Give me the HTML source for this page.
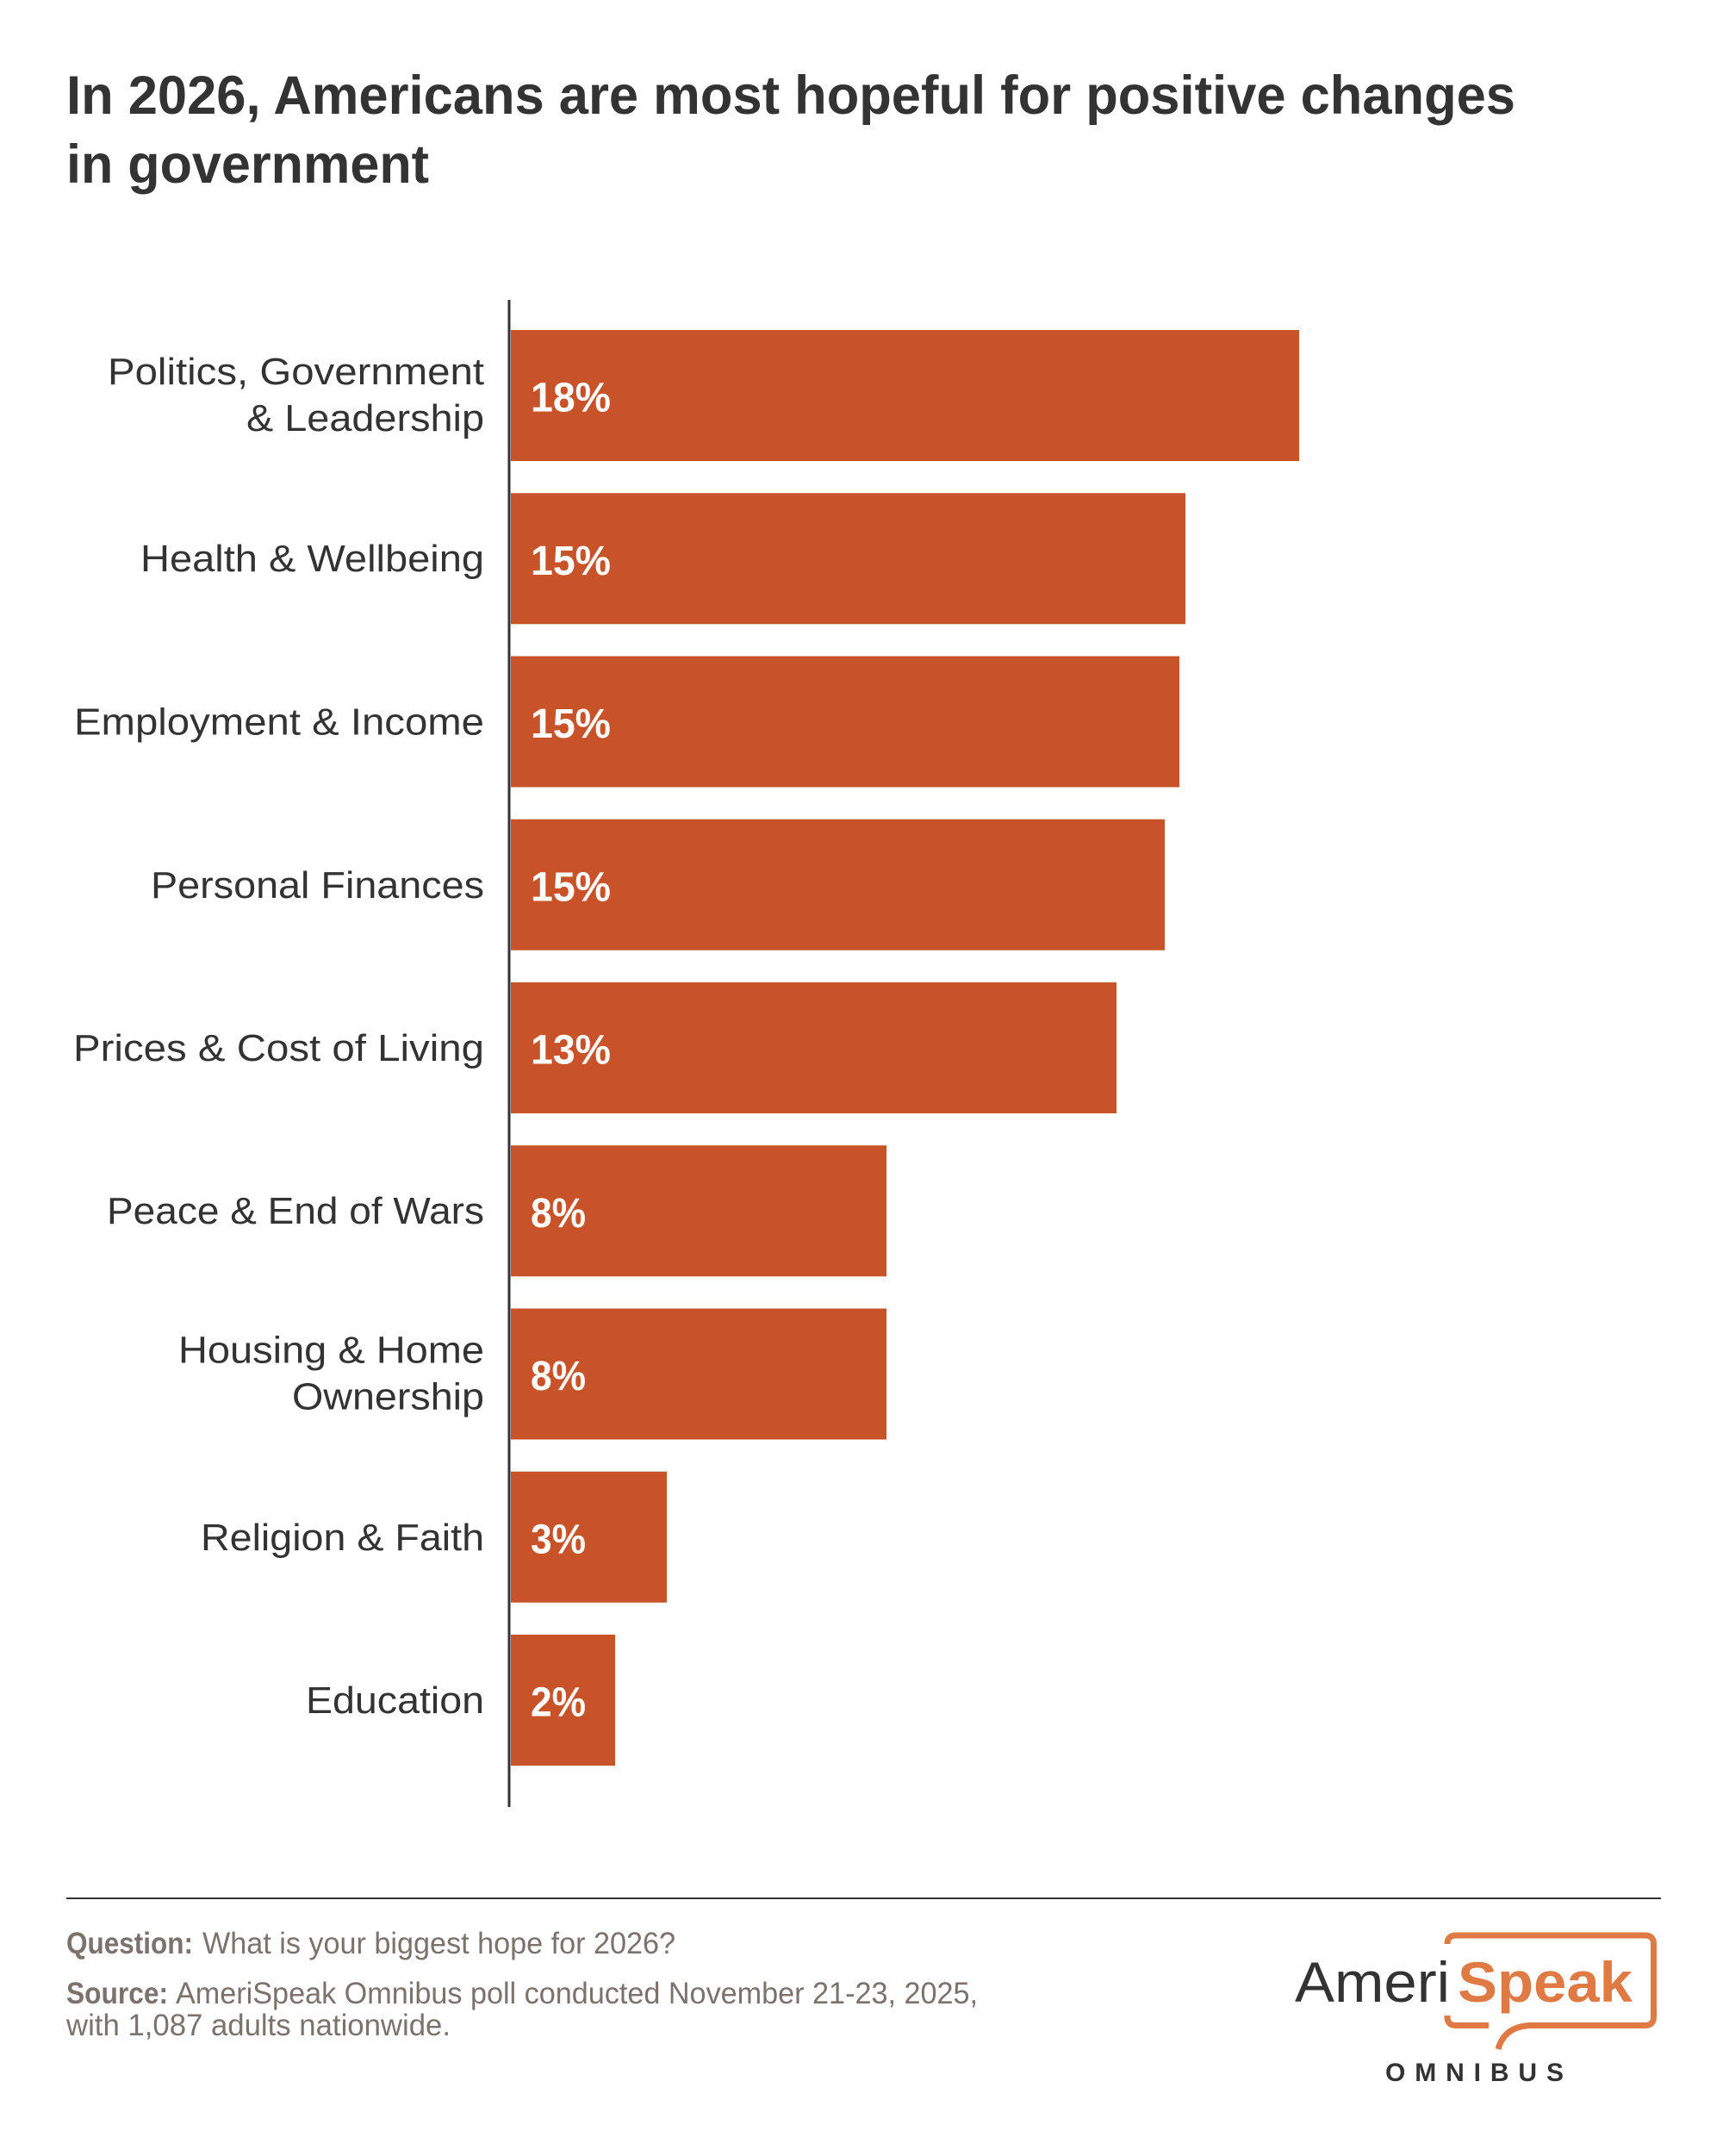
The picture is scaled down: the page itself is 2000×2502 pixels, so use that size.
<!DOCTYPE html>
<html>
<head>
<meta charset="utf-8">
<style>
  html, body { margin: 0; padding: 0; background: #ffffff; }
  svg { display: block; }
  text { font-family: "Liberation Sans", Arial, sans-serif; }
</style>
</head>
<body>
<svg width="2000" height="2502" viewBox="0 0 2000 2502" xmlns="http://www.w3.org/2000/svg">
  <rect x="0" y="0" width="2000" height="2502" fill="#ffffff"/>

  <!-- Title -->
  <text x="77" y="132" font-size="63" font-weight="bold" fill="#333333" textLength="1682" lengthAdjust="spacingAndGlyphs">In 2026, Americans are most hopeful for positive changes</text>
  <text x="77" y="212" font-size="63" font-weight="bold" fill="#333333" textLength="421" lengthAdjust="spacingAndGlyphs">in government</text>

  <!-- Bars -->
  <g fill="#C85329">
    <rect x="593" y="383" width="915" height="152"/>
    <rect x="593" y="572.25" width="783" height="152"/>
    <rect x="593" y="761.5" width="776" height="152"/>
    <rect x="593" y="950.75" width="759" height="152"/>
    <rect x="593" y="1140" width="703" height="152"/>
    <rect x="593" y="1329.25" width="436" height="152"/>
    <rect x="593" y="1518.5" width="436" height="152"/>
    <rect x="593" y="1707.75" width="181" height="152"/>
    <rect x="593" y="1897" width="121" height="152"/>
  </g>

  <!-- Axis -->
  <rect x="589.5" y="348" width="3" height="1749" fill="#333333"/>

  <!-- Category labels -->
  <g font-size="43.5" fill="#333333">
    <text x="125" y="446" textLength="437" lengthAdjust="spacingAndGlyphs">Politics, Government</text>
    <text x="286" y="500" textLength="276" lengthAdjust="spacingAndGlyphs">&amp; Leadership</text>
    <text x="163" y="663" textLength="399" lengthAdjust="spacingAndGlyphs">Health &amp; Wellbeing</text>
    <text x="86" y="852.5" textLength="476" lengthAdjust="spacingAndGlyphs">Employment &amp; Income</text>
    <text x="175" y="1042" textLength="387" lengthAdjust="spacingAndGlyphs">Personal Finances</text>
    <text x="85" y="1231" textLength="477" lengthAdjust="spacingAndGlyphs">Prices &amp; Cost of Living</text>
    <text x="124" y="1420" textLength="438" lengthAdjust="spacingAndGlyphs">Peace &amp; End of Wars</text>
    <text x="207" y="1581.5" textLength="355" lengthAdjust="spacingAndGlyphs">Housing &amp; Home</text>
    <text x="339" y="1635.5" textLength="223" lengthAdjust="spacingAndGlyphs">Ownership</text>
    <text x="233" y="1799" textLength="329" lengthAdjust="spacingAndGlyphs">Religion &amp; Faith</text>
    <text x="355" y="1988" textLength="207" lengthAdjust="spacingAndGlyphs">Education</text>
  </g>

  <!-- Value labels -->
  <g font-size="48" font-weight="bold" fill="#ffffff">
    <text x="616" y="477.5" textLength="93" lengthAdjust="spacingAndGlyphs">18%</text>
    <text x="616" y="666.75" textLength="93" lengthAdjust="spacingAndGlyphs">15%</text>
    <text x="616" y="856" textLength="93" lengthAdjust="spacingAndGlyphs">15%</text>
    <text x="616" y="1045.25" textLength="93" lengthAdjust="spacingAndGlyphs">15%</text>
    <text x="616" y="1234.5" textLength="93" lengthAdjust="spacingAndGlyphs">13%</text>
    <text x="616" y="1423.75" textLength="64" lengthAdjust="spacingAndGlyphs">8%</text>
    <text x="616" y="1613" textLength="64" lengthAdjust="spacingAndGlyphs">8%</text>
    <text x="616" y="1802.25" textLength="64" lengthAdjust="spacingAndGlyphs">3%</text>
    <text x="616" y="1991.5" textLength="64" lengthAdjust="spacingAndGlyphs">2%</text>
  </g>

  <!-- Footer rule -->
  <rect x="77" y="2202" width="1851" height="2" fill="#333333"/>

  <!-- Footer notes -->
  <g font-size="35" fill="#7B726D">
    <text x="77" y="2267" font-weight="bold" textLength="147" lengthAdjust="spacingAndGlyphs">Question:</text>
    <text x="235" y="2267" textLength="549" lengthAdjust="spacingAndGlyphs">What is your biggest hope for 2026?</text>
    <text x="77" y="2325" font-weight="bold" textLength="118" lengthAdjust="spacingAndGlyphs">Source:</text>
    <text x="204" y="2325" textLength="931" lengthAdjust="spacingAndGlyphs">AmeriSpeak Omnibus poll conducted November 21-23, 2025,</text>
    <text x="77" y="2362" textLength="446" lengthAdjust="spacingAndGlyphs">with 1,087 adults nationwide.</text>
  </g>

  <!-- Logo -->
  <g fill="none" stroke="#DF7A44" stroke-width="7" stroke-linecap="butt">
    <path d="M1680 2256 Q1680 2246 1690 2246 L1909.5 2246 Q1919.5 2246 1919.5 2256 L1919.5 2340.5 Q1919.5 2350.5 1909.5 2350.5 L1776 2350.5 Q1746 2352 1739 2378"/>
    <path d="M1680 2339 L1680 2340.5 Q1680 2350.5 1690 2350.5 L1728 2350.5"/>
  </g>
  <text x="1503" y="2323" font-size="66" fill="#333333" textLength="180" lengthAdjust="spacingAndGlyphs">Ameri</text>
  <text x="1692" y="2323" font-size="66" font-weight="bold" fill="#DF7A44" textLength="203" lengthAdjust="spacingAndGlyphs">Speak</text>
  <text x="1608" y="2415" font-size="30" font-weight="bold" fill="#333333" textLength="207" lengthAdjust="spacing">OMNIBUS</text>
</svg>
</body>
</html>
